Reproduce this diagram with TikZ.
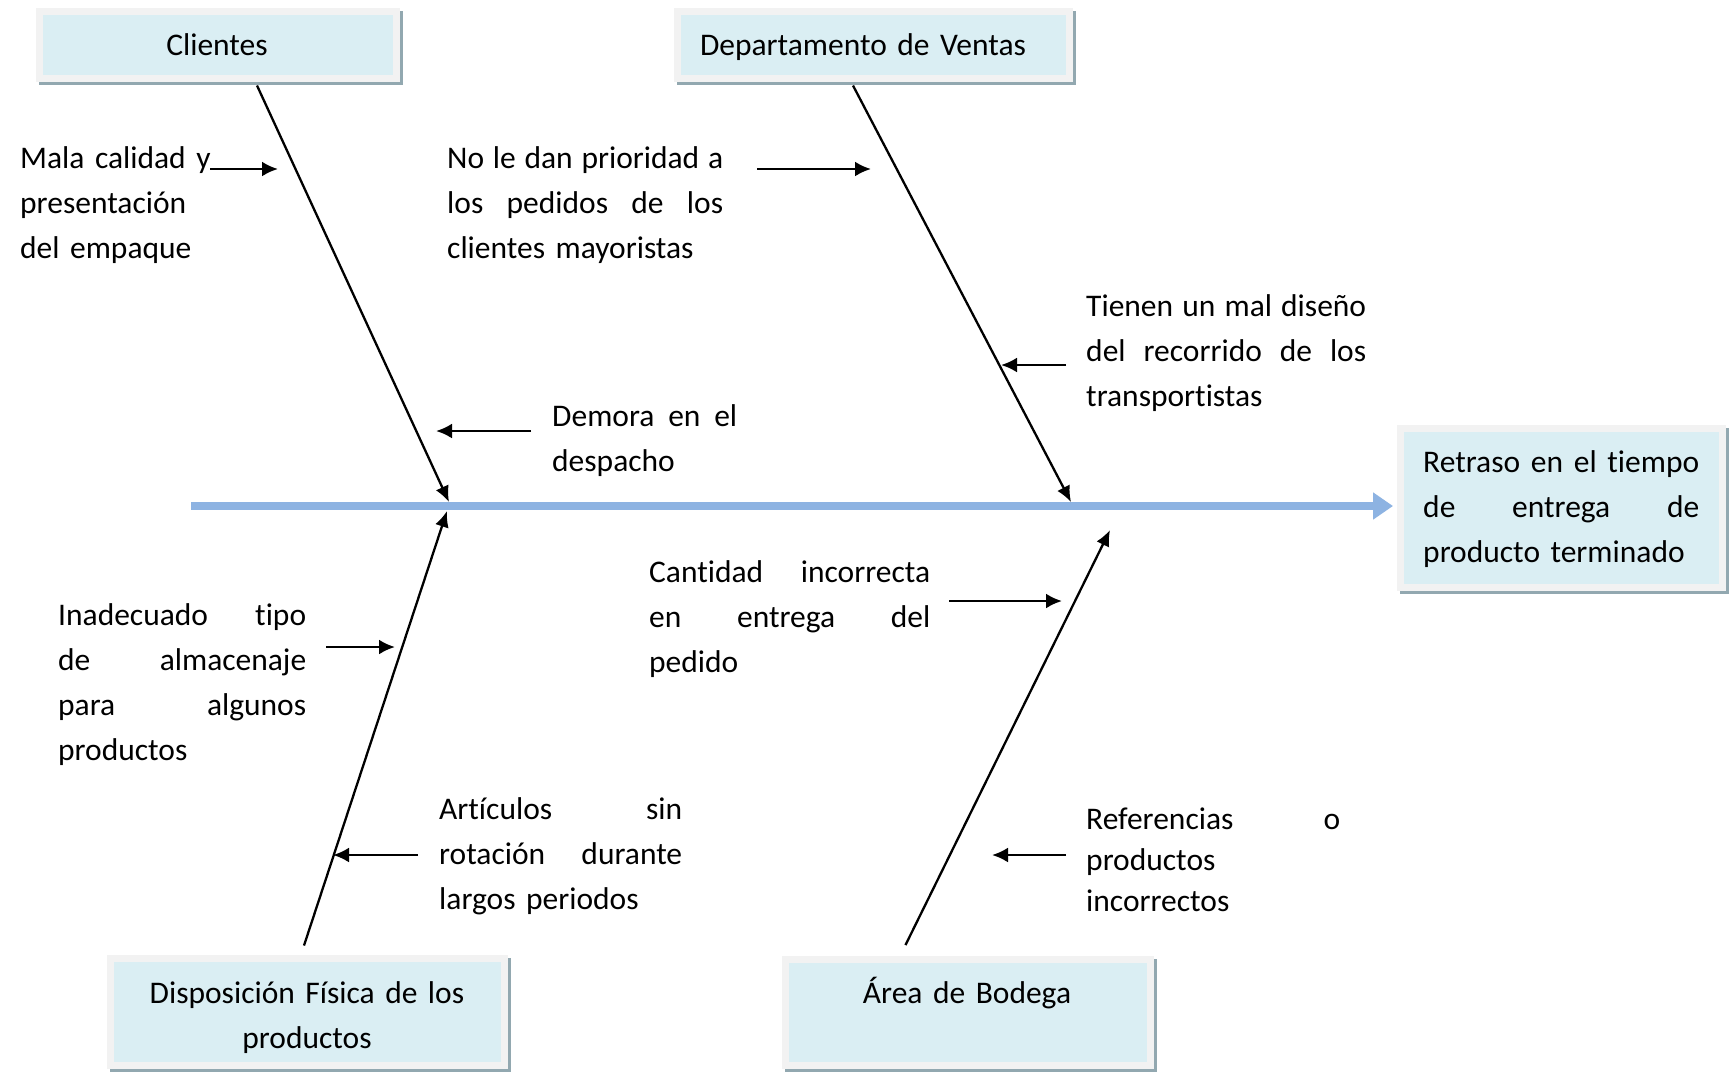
\documentclass[tikz,border=0pt]{standalone}
\usepackage{fontspec}
\setmainfont{Carlito}[Ligatures=NoCommon]
\usetikzlibrary{arrows.meta,shadows}
\definecolor{boxblue}{RGB}{218,238,243}
\definecolor{boxgrey}{RGB}{242,242,242}
\definecolor{shadowc}{RGB}{146,168,176}
\definecolor{spinec}{RGB}{141,179,226}
\newcommand{\jl}[2]{\leavevmode\hbox to #1pt{#2}}
\begin{document}
\begin{tikzpicture}[x=1pt,y=-1pt,
  box/.style={fill=boxblue, draw=boxgrey, line width=7pt, inner sep=0pt,
    drop shadow={shadow xshift=3pt, shadow yshift=-3pt, fill=shadowc, draw=shadowc, line width=7pt, opacity=1}},
  blbl/.style={anchor=base, inner sep=0pt, align=center, text width=380pt, font=\fontsize{31.5}{45}\selectfont},
  lbl/.style={anchor=base west, inner sep=0pt, align=left, font=\fontsize{31.5}{45}\selectfont},
  bone/.style={line width=2.3pt, -{Latex[length=16pt,width=14pt]}},
  arr/.style={line width=2.6pt, -{Latex[length=16pt,width=15pt]}},
  spine/.style={line width=8pt, spinec, -{Triangle[length=20pt,width=26pt]}}]
\useasboundingbox[fill=white] (0,0) rectangle (1731,1080);

% boxes
\node[box, minimum width=357pt, minimum height=67pt] (cli) at (218,45) {};
\node[box, minimum width=392pt, minimum height=67pt] (ven) at (873,45) {};
\node[box, minimum width=322pt, minimum height=159pt] (ret) at (1561,508) {};
\node[box, minimum width=394pt, minimum height=107pt] (dis) at (307.5,1012) {};
\node[box, minimum width=365pt, minimum height=106pt] (bod) at (968,1012) {};

% box labels
\node[blbl] (clil) at (217,55) {Clientes};
\node[blbl] (venl) at (863,55) {Departamento de Ventas};
\node[lbl, text width=276pt] (retl) at (1423,472)
  {\jl{276}{Retraso\hfill en\hfill el\hfill tiempo}\\\jl{276}{de\hfill entrega\hfill de}\\producto terminado};
\node[blbl] (disl) at (307,1003) {Disposición Física de los\\productos};
\node[blbl] (bodl) at (967,1003) {Área de Bodega};

% spine
\coordinate (sp0) at (191,506);
\draw[spine, shorten >=3.5pt] (sp0) -- (sp0 -| ret.west);

% junctions
\coordinate (j1) at (449,502);
\coordinate (j2) at (1071,502);
\coordinate (j3) at (447,511);
\coordinate (j4) at (1110,530);

% bones
\draw[bone] ([xshift=39pt,yshift=-3.5pt]cli.south) -- (j1);
\draw[bone] ([xshift=-20pt,yshift=-3.5pt]ven.south) -- (j2);
\draw[bone] ([xshift=-3.5pt,yshift=9.5pt]dis.north) -- (j3);
\draw[bone] ([xshift=-62.5pt,yshift=10.5pt]bod.north) -- (j4);

% cause labels
\node[lbl, text width=200pt] (t1) at (20,168) {Mala calidad y\\presentación\\del empaque};
\node[lbl, text width=276pt] (t2) at (447,168) {\jl{276}{No\hfill le\hfill dan\hfill prioridad\hfill a}\\\jl{276}{los\hfill pedidos\hfill de\hfill los}\\clientes mayoristas};
\node[lbl, text width=280pt] (t3) at (1086,316) {\jl{280}{Tienen\hfill un\hfill mal\hfill diseño}\\\jl{280}{del\hfill recorrido\hfill de\hfill los}\\transportistas};
\node[lbl, text width=185pt] (t4) at (552,426) {\jl{185}{Demora\hfill en\hfill el}\\despacho};
\node[lbl, text width=281pt] (t5) at (649,582) {\jl{281}{Cantidad\hfill incorrecta}\\\jl{281}{en\hfill entrega\hfill del}\\pedido};
\node[lbl, text width=248pt] (t6) at (58,625) {\jl{248}{Inadecuado\hfill tipo}\\\jl{248}{de\hfill almacenaje}\\\jl{248}{para\hfill algunos}\\productos};
\node[lbl, text width=243pt] (t7) at (439,819) {\jl{243}{Artículos\hfill sin}\\\jl{243}{rotación\hfill durante}\\largos periodos};
\node[lbl, text width=254pt, font=\fontsize{31.5}{41}\selectfont] (t8) at (1086,829) {\jl{254}{Referencias\hfill o}\\productos\\incorrectos};

% small arrows
\coordinate (a1s) at (210,169); \coordinate (a1e) at (278,169);
\coordinate (a2s) at (757,169); \coordinate (a2e) at (871,169);
\coordinate (a3s) at (1066,365); \coordinate (a3e) at (1001,365);
\coordinate (a4s) at (531,431); \coordinate (a4e) at (436,431);
\coordinate (a5s) at (949,601); \coordinate (a5e) at (1062,601);
\coordinate (a6s) at (326,647); \coordinate (a6e) at (395,647);
\coordinate (a7s) at (418,855); \coordinate (a7e) at (333,855);
\coordinate (a8s) at (1066,855); \coordinate (a8e) at (992,855);
\draw[arr] (a1s) -- (a1e);
\draw[arr] (a2s) -- (a2e);
\draw[arr] (a3s) -- (a3e);
\draw[arr] (a4s) -- (a4e);
\draw[arr] (a5s) -- (a5e);
\draw[arr] (a6s) -- (a6e);
\draw[arr] (a7s) -- (a7e);
\draw[arr] (a8s) -- (a8e);
\end{tikzpicture}
\end{document}
